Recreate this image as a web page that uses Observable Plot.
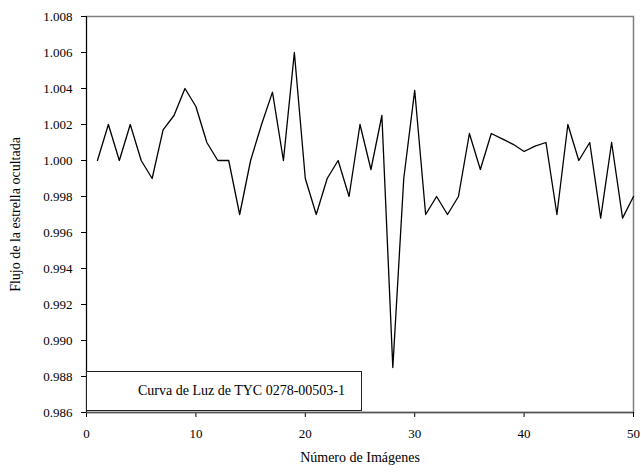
<!DOCTYPE html>
<html>
<head>
<meta charset="utf-8">
<script src="https://cdn.jsdelivr.net/npm/d3@7"></script>
<script src="https://cdn.jsdelivr.net/npm/@observablehq/plot@0.6"></script>
<style>
  html, body { margin: 0; padding: 0; background: #fff; }
  #wrap { position: relative; width: 641px; height: 476px; font-family: "Liberation Serif", "Times New Roman", serif; }
  #legend { position: absolute; left: 86px; top: 371px; width: 276px; height: 40px; box-sizing: border-box;
            border: 1px solid #222; background: #fff; font-size: 14px; line-height: 38px; padding-left: 51px; color: #000; white-space: nowrap; }
</style>
</head>
<body>
<div id="wrap"></div>
<script>
const imagenes = [1,2,3,4,5,6,7,8,9,10,11,12,13,14,15,16,17,18,19,20,21,22,23,24,25,26,27,28,29,30,31,32,33,34,35,36,37,38,39,40,41,42,43,44,45,46,47,48,49,50];
const flujo = [1.000,1.002,1.000,1.002,1.000,0.999,1.0017,1.0025,1.004,1.003,
               1.001,1.000,1.000,0.997,1.000,1.002,1.0038,1.000,1.006,0.999,
               0.997,0.999,1.000,0.998,1.002,0.9995,1.0025,0.9885,0.999,1.0039,
               0.997,0.998,0.997,0.998,1.0015,0.9995,1.0015,1.0012,1.0009,1.0005,
               1.0008,1.001,0.997,1.002,1.000,1.001,0.9968,1.001,0.9968,0.998];
const xTicks = [0,10,20,30,40,50];
const yTicks = [0.986,0.988,0.990,0.992,0.994,0.996,0.998,1.000,1.002,1.004,1.006,1.008];
const xTitle = "Número de Imágenes";
const yTitle = "Flujo de la estrella ocultada";
const legendText = "Curva de Luz de TYC 0278-00503-1";

const data = imagenes.map((n, i) => ({n, f: flujo[i]}));

const chart = Plot.plot({
  width: 641,
  height: 476,
  marginLeft: 86,
  marginRight: 8,
  marginTop: 16,
  marginBottom: 64,
  style: {fontFamily: "'Liberation Serif', 'Times New Roman', serif", fontSize: "13px", color: "#000", background: "#fff"},
  x: {domain: [0, 50]},
  y: {domain: [0.986, 1.008]},
  marks: [
    Plot.frame({stroke: "#7f7f7f", strokeWidth: 1.5}),
    Plot.axisY({ticks: yTicks, tickFormat: d3.format(".3f"), tickSize: 5, tickPadding: 9, label: null, stroke: "#000"}),
    Plot.axisX({ticks: xTicks, tickFormat: d => d, tickSize: 5, tickPadding: 11, label: null, stroke: "#000"}),
    Plot.ruleX([0], {stroke: "#000"}),
    Plot.ruleY([0.986], {stroke: "#555", strokeWidth: 1.5}),
    Plot.line(data, {x: "n", y: "f", stroke: "#000", strokeWidth: 1.3}),
    Plot.text([xTitle], {text: d => d, frameAnchor: "bottom", dy: 49, fontSize: 14}),
    Plot.text([yTitle], {text: d => d, frameAnchor: "left", textAnchor: "middle", dx: -71, rotate: -90, fontSize: 14})
  ]
});
const wrap = document.getElementById("wrap");
wrap.appendChild(chart);
const lg = document.createElement("div");
lg.id = "legend";
lg.textContent = legendText;
wrap.appendChild(lg);
</script>
</body>
</html>
